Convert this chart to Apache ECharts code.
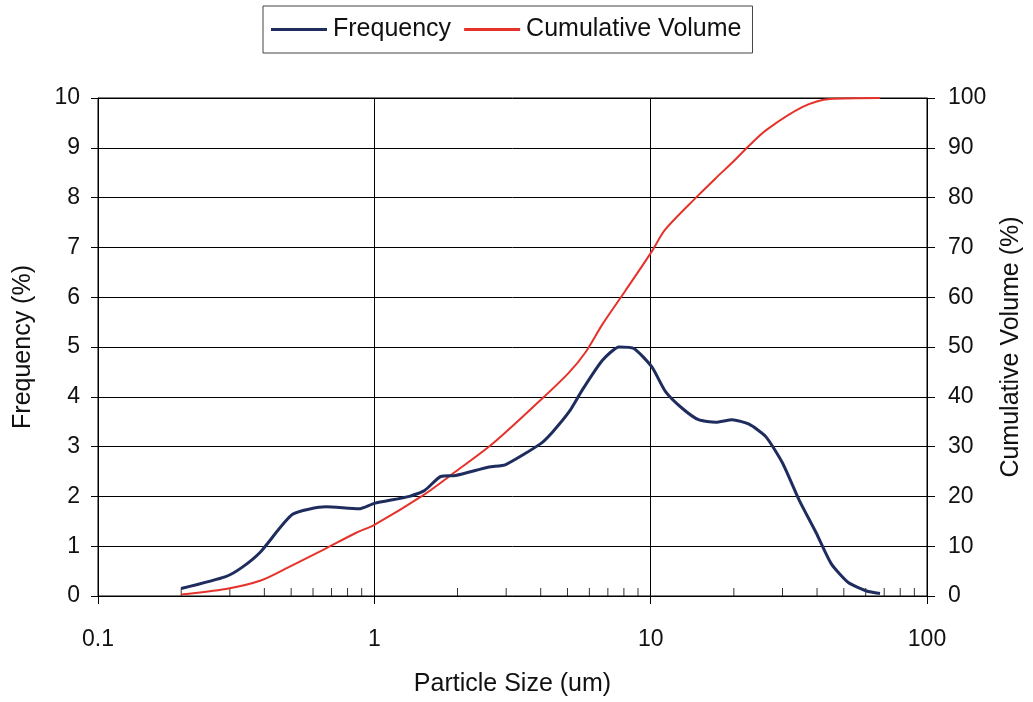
<!DOCTYPE html>
<html><head><meta charset="utf-8">
<script src="https://cdn.jsdelivr.net/npm/echarts@6/dist/echarts.min.js"></script>
<style>html,body{margin:0;padding:0;background:#fff;overflow:hidden}#c{width:100vw;height:100vh}</style>
</head><body><div id="c"></div>
<script>
const freqSize = [0.2, 0.29, 0.333, 0.388, 0.506, 0.668, 0.88, 1.0, 1.34, 1.52, 1.74, 1.97, 2.6, 2.99, 4.0, 4.41, 5.07, 5.66, 6.68, 7.69, 8.7, 10.1, 11.3, 13.0, 14.9, 17.2, 19.7, 22.7, 26.1, 30.0, 34.5, 39.7, 45.0, 51.9, 60.4, 67.6];
const freqValue = [0.15, 0.39, 0.58, 0.89, 1.64, 1.79, 1.75, 1.86, 2.0, 2.12, 2.4, 2.42, 2.59, 2.64, 3.06, 3.29, 3.7, 4.14, 4.73, 5.0, 4.97, 4.6, 4.11, 3.77, 3.54, 3.49, 3.54, 3.45, 3.2, 2.67, 1.92, 1.27, 0.65, 0.27, 0.1, 0.05];
const cumSize = [0.2, 0.29, 0.388, 0.49, 0.65, 0.86, 1.0, 1.5, 1.97, 2.67, 4.06, 5.07, 5.82, 6.68, 8.1, 10.1, 11.3, 14.9, 17.2, 19.7, 22.7, 26.1, 35.5, 44.5, 67.6];
const cumValue = [0.3, 1.4, 3.1, 5.8, 9.2, 12.7, 14.3, 20.2, 25, 30.5, 39.7, 44.9, 49, 54.5, 61.3, 69.2, 73.6, 80.5, 83.9, 87, 90.4, 93.5, 98.2, 99.8, 100];
const minorTickPos = [0.2,0.3,0.4,0.5,0.6,0.7,0.8,0.9,2,3,4,5,6,7,8,9,20,30,40,50,60,70,80,90];
const seriesNames = ['Frequency', 'Cumulative Volume'];

const F = 'Liberation Sans, Arial, sans-serif';
const chart = echarts.init(document.getElementById('c'), null, {renderer: 'canvas'});
chart.setOption({
  animation: false,
  backgroundColor: '#fff',
  textStyle: {fontFamily: F},
  legend: {
    data: seriesNames.map(n => ({name: n})),
    top: 6, left: 263,
    borderColor: '#444', borderWidth: 1, padding: [11, 11, 11, 8],
    itemWidth: 56, itemHeight: 3, itemGap: 13, icon: 'rect',
    textStyle: {fontFamily: F, fontSize: 25, color: '#111', padding: [0, 0, 0, 1]}
  },
  grid: {left: 98, right: 106, top: 98, bottom: 101, show: true, borderColor: '#000', borderWidth: 1, containLabel: false},
  xAxis: {
    type: 'log', logBase: 10, min: 0.1, max: 100,
    name: 'Particle Size (um)', nameLocation: 'middle', nameGap: 76,
    nameTextStyle: {fontFamily: F, fontSize: 25, color: '#111'},
    axisLine: {lineStyle: {color: '#000'}},
    axisTick: {show: true, length: 8, lineStyle: {color: '#000'}},
    axisLabel: {fontFamily: F, fontSize: 23, color: '#111', margin: 32, formatter: v => String(v)},
    splitLine: {show: true, lineStyle: {color: '#000', width: 1}},
    minorTick: {show: false}
  },
  yAxis: [{
    type: 'value', min: 0, max: 10, interval: 1,
    name: 'Frequency (%)', nameLocation: 'middle', nameGap: 62,
    nameTextStyle: {fontFamily: F, fontSize: 25, color: '#111'},
    axisLine: {show: true, lineStyle: {color: '#000'}},
    axisTick: {show: true, length: 7, lineStyle: {color: '#000'}},
    axisLabel: {fontFamily: F, fontSize: 23, color: '#111', margin: 18},
    splitLine: {show: true, lineStyle: {color: '#000', width: 1}}
  }, {
    type: 'value', min: 0, max: 100, interval: 10, position: 'right',
    name: 'Cumulative Volume (%)', nameLocation: 'middle', nameGap: 72,
    nameTextStyle: {fontFamily: F, fontSize: 25, color: '#111'},
    axisLine: {show: true, lineStyle: {color: '#000'}},
    axisTick: {show: true, length: 8, lineStyle: {color: '#000'}},
    axisLabel: {fontFamily: F, fontSize: 23, color: '#111', margin: 21},
    splitLine: {show: false}
  }],
  series: [{
    name: seriesNames[0], type: 'line', yAxisIndex: 0,
    data: freqSize.map((s, i) => [s, freqValue[i]]),
    showSymbol: false, smooth: 0.2,
    lineStyle: {color: '#1e2d5e', width: 3}, itemStyle: {color: '#1e2d5e'}, z: 4
  }, {
    name: seriesNames[1], type: 'line', yAxisIndex: 1,
    data: cumSize.map((s, i) => [s, cumValue[i]]),
    showSymbol: false, smooth: 0.3,
    lineStyle: {color: '#e5322a', width: 2}, itemStyle: {color: '#e5322a'}, z: 3
  }, {
    name: 'minor', type: 'scatter', yAxisIndex: 0, silent: true,
    data: minorTickPos.map(s => [s, 0]),
    symbol: 'rect', symbolSize: [1, 8], symbolOffset: [0, -4],
    itemStyle: {color: '#000'}, z: 2
  }]
});
</script></body></html>
